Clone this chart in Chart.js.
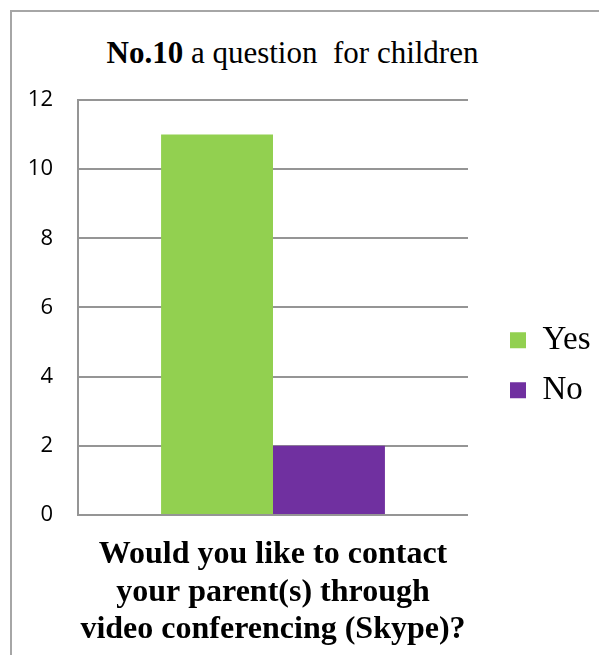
<!DOCTYPE html>
<html>
<head>
<meta charset="utf-8">
<script src="https://cdn.jsdelivr.net/npm/chart.js@4"></script>
<style>
  html, body { margin: 0; padding: 0; background: #fff; }
  #wrap { position: relative; width: 599px; height: 655px; overflow: hidden; }
  #frame { position: absolute; left: 10px; top: 10px; width: 700px; height: 700px;
           border-left: 2px solid #a6a6a6; border-top: 2px solid #a6a6a6; }
  #title { position: absolute; left: 0; top: 37px; width: 585px; text-align: center;
           font: 31px/31px "Liberation Serif", serif; color: #000; white-space: pre; }
  canvas { position: absolute; left: 0; top: 0; }
</style>
</head>
<body>
<div id="wrap">
  <div id="frame"></div>
  <div id="title"><b>No.10</b> a question  for children</div>
  <canvas id="questionChart" width="599" height="655"></canvas>
</div>
<script>
// answers to question 10
const categories = [''];
const seriesNames = ['Yes', 'No'];
const seriesValues = [[11], [2]];
const seriesColors = ['#92d050', '#7030a0'];
const yMin = 0, yMax = 12, yStep = 2;
const axisTitle = ['Would you like to contact', 'your parent(s) through', 'video conferencing (Skype)?'];

// legend sits in a fixed-width column on the right
const legendPlacement = {
  id: 'legendPlacement',
  beforeUpdate(chart) {
    const legend = chart.legend;
    if (!legend || legend._patched) return;
    const fit = legend.fit.bind(legend);
    legend.fit = function () { fit(); this.width = 131; };
    legend._patched = true;
  },
  afterLayout(chart) {
    const legend = chart.legend;
    legend.left += 25; legend.right += 25;
    legend.top -= 9; legend.bottom -= 9;
  }
};

const ctx = document.getElementById('questionChart');
new Chart(ctx, {
  type: 'bar',
  data: {
    labels: categories,
    datasets: seriesNames.map((name, i) => ({
      label: name,
      data: seriesValues[i],
      backgroundColor: seriesColors[i],
      borderWidth: 0,
      categoryPercentage: 0.574,
      barPercentage: 1
    }))
  },
  options: {
    responsive: false,
    animation: false,
    layout: { padding: { top: 100, left: 0, right: 0, bottom: 6.5 } },
    plugins: {
      title: { display: false },
      tooltip: { enabled: false },
      legend: {
        position: 'right',
        labels: {
          boxWidth: 16,
          boxHeight: 16,
          padding: 17,
          color: '#000',
          font: { family: '"Liberation Serif", serif', size: 33 }
        }
      }
    },
    scales: {
      x: {
        grid: { display: false, drawTicks: false },
        border: { display: false },
        ticks: { display: false },
        title: {
          display: true,
          text: axisTitle,
          color: '#000',
          font: { family: '"Liberation Serif", serif', size: 32, weight: 'bold', lineHeight: 1.172 },
          padding: { top: 21, bottom: 0 }
        }
      },
      y: {
        min: yMin,
        max: yMax,
        afterFit(scale) { scale.width = 78; },
        grid: { color: '#959595', lineWidth: 2, drawTicks: false },
        border: { color: '#959595', width: 2 },
        ticks: {
          stepSize: yStep,
          padding: 25,
          color: '#000',
          font: { family: '"Open Sans", sans-serif', size: 22 }
        }
      }
    }
  },
  plugins: [legendPlacement]
});
</script>
</body>
</html>
